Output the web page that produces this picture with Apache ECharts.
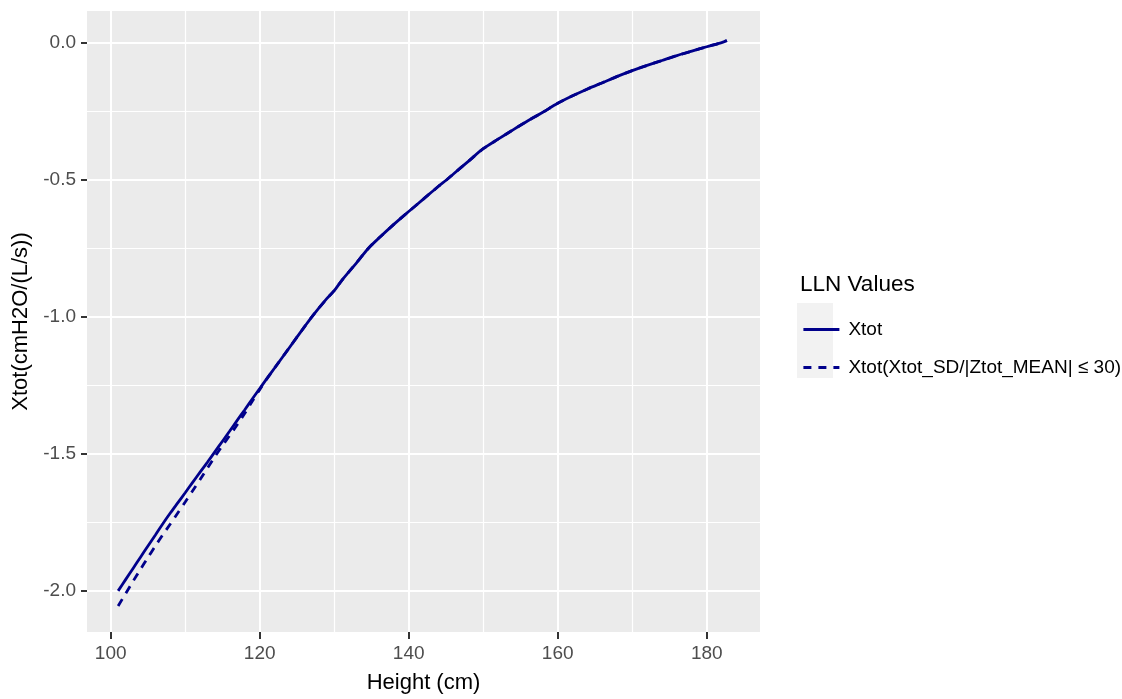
<!DOCTYPE html>
<html>
<head>
<meta charset="utf-8">
<script src="https://cdn.jsdelivr.net/npm/echarts@6/dist/echarts.min.js"></script>
<style>
  html, body { margin: 0; padding: 0; background: #ffffff; }
  #chart { width: 1122px; height: 699px; }
</style>
</head>
<body>
<div id="chart"></div>
<script>
// ---- Data ----
const heightSolid = [101, 102, 103, 104, 105, 106, 107, 108, 109, 110, 111, 112, 113, 114, 115, 116, 117, 118, 119, 120, 121, 122, 124, 126, 127, 129, 130, 131, 133, 134.6, 136, 138, 140, 142, 144, 145.1, 146, 148, 150, 152, 154, 156, 158, 160, 162, 164, 166, 168, 170, 172, 174, 176, 178, 180, 182, 182.7];
const xtotSolid = [-2.000, -1.959, -1.918, -1.877, -1.836, -1.796, -1.755, -1.716, -1.679, -1.642, -1.604, -1.567, -1.530, -1.492, -1.454, -1.416, -1.377, -1.339, -1.300, -1.262, -1.224, -1.187, -1.112, -1.037, -1.000, -0.934, -0.905, -0.868, -0.803, -0.750, -0.713, -0.663, -0.616, -0.570, -0.524, -0.500, -0.479, -0.433, -0.387, -0.352, -0.318, -0.285, -0.254, -0.221, -0.194, -0.169, -0.146, -0.123, -0.102, -0.083, -0.065, -0.047, -0.031, -0.015, 0.000, 0.008];
const heightDashed = [101, 102, 103, 104, 105, 106, 107, 108, 109, 110, 111, 112, 113, 114, 115, 116, 117, 118, 119, 120, 121, 122, 124, 126, 127, 129, 130, 131, 133, 134.6, 136, 138, 140, 142, 144, 145.1, 146, 148, 150, 152, 154, 156, 158, 160, 162, 164, 166, 168, 170, 172, 174, 176, 178, 180, 182, 182.7];
const xtotDashed = [-2.055, -2.010, -1.965, -1.921, -1.878, -1.836, -1.795, -1.756, -1.716, -1.676, -1.635, -1.594, -1.552, -1.510, -1.470, -1.432, -1.393, -1.352, -1.308, -1.266, -1.225, -1.187, -1.112, -1.037, -1.000, -0.934, -0.905, -0.868, -0.803, -0.750, -0.713, -0.663, -0.616, -0.570, -0.524, -0.500, -0.479, -0.433, -0.387, -0.352, -0.318, -0.285, -0.254, -0.221, -0.194, -0.169, -0.146, -0.123, -0.102, -0.083, -0.065, -0.047, -0.031, -0.015, 0.000, 0.008];

const xMajorTicks = [100, 120, 140, 160, 180];
const xMinorTicks = [110, 130, 150, 170];
const yMajorTicks = [-2.0, -1.5, -1.0, -0.5, 0.0];
const yMinorTicks = [-1.75, -1.25, -0.75, -0.25];

const seriesNames = ['Xtot', 'Xtot(Xtot_SD/|Ztot_MEAN| \u2264 30)'];
const legendTitle = 'LLN Values';
const xTitle = 'Height (cm)';
const yTitle = 'Xtot(cmH2O/(L/s))';

const xRange = [96.82, 187.15];
const yRange = [-2.150, 0.1155];

// ---- Chart ----
const chart = echarts.init(document.getElementById('chart'));
const lineColor = '#00008B';
const fontFam = '"Liberation Sans", Arial, sans-serif';

function pairs(xs, ys) { return xs.map((x, i) => [x, ys[i]]); }

const option = {
  animation: false,
  title: {
    text: legendTitle,
    left: 795,
    top: 268,
    textStyle: { fontFamily: fontFam, fontSize: 22.5, fontWeight: 'normal', color: '#000000' }
  },
  graphic: [{
    type: 'rect',
    shape: { x: 797, y: 303, width: 36, height: 75 },
    style: { fill: '#f2f2f2' },
    z: 0
  }],
  legend: {
    orient: 'vertical',
    left: 797,
    top: 315,
    itemWidth: 36,
    itemHeight: 19,
    itemGap: 19,
    data: [seriesNames[0], seriesNames[1]],
    itemStyle: { opacity: 0 },
    lineStyle: { width: 2.8 },
    textStyle: { fontFamily: fontFam, fontSize: 19, color: '#000000', padding: [0, 0, 0, 4] },
    z: 5
  },
  grid: {
    left: 87, right: 362, top: 11, bottom: 66,
    show: true, backgroundColor: '#ebebeb', borderWidth: 0
  },
  xAxis: [{
    type: 'value',
    min: xRange[0], max: xRange[1],
    name: xTitle,
    nameLocation: 'middle',
    nameGap: 40,
    nameTextStyle: { fontFamily: fontFam, fontSize: 22, color: '#000000' },
    axisLine: { show: false, onZero: false },
    axisTick: { show: true, length: 7, lineStyle: { color: '#333333', width: 2 }, customValues: xMajorTicks },
    axisLabel: { customValues: xMajorTicks, margin: 12, fontFamily: fontFam, fontSize: 19, color: '#4d4d4d',
                 formatter: v => String(Math.round(v)) },
    splitLine: { show: true, lineStyle: { color: '#ffffff', width: 2 } }
  }, {
    type: 'value',
    min: xRange[0], max: xRange[1],
    position: 'top',
    axisLine: { show: false, onZero: false },
    axisTick: { show: false, customValues: xMinorTicks },
    axisLabel: { show: false, customValues: xMinorTicks },
    splitLine: { show: true, lineStyle: { color: '#ffffff', width: 1.2 } }
  }],
  yAxis: [{
    type: 'value',
    min: yRange[0], max: yRange[1],
    name: yTitle,
    nameLocation: 'middle',
    nameGap: 50,
    nameRotate: 90,
    nameTextStyle: { fontFamily: fontFam, fontSize: 22, color: '#000000' },
    axisLine: { show: true, onZero: false, lineStyle: { color: '#ebebeb', width: 0.01 } },
    axisTick: { show: true, length: 6, lineStyle: { color: '#333333', width: 2 }, customValues: yMajorTicks },
    axisLabel: { customValues: yMajorTicks, margin: 11, fontFamily: fontFam, fontSize: 19, color: '#4d4d4d',
                 formatter: v => v.toFixed(1) },
    splitLine: { show: true, lineStyle: { color: '#ffffff', width: 2 } }
  }, {
    type: 'value',
    min: yRange[0], max: yRange[1],
    position: 'right',
    axisLine: { show: false, onZero: false },
    axisTick: { show: false, customValues: yMinorTicks },
    axisLabel: { show: false, customValues: yMinorTicks },
    splitLine: { show: true, lineStyle: { color: '#ffffff', width: 1.2 } }
  }],
  series: [{
    name: seriesNames[1],
    type: 'line',
    xAxisIndex: 0, yAxisIndex: 0,
    data: pairs(heightDashed, xtotDashed),
    showSymbol: false,
    symbol: 'none',
    smooth: 0.3,
    lineStyle: { color: lineColor, width: 2.8, type: [8, 7] },
    itemStyle: { color: lineColor },
    z: 3
  }, {
    name: seriesNames[0],
    type: 'line',
    xAxisIndex: 0, yAxisIndex: 0,
    data: pairs(heightSolid, xtotSolid),
    showSymbol: false,
    symbol: 'none',
    smooth: 0.3,
    lineStyle: { color: lineColor, width: 2.8, type: 'solid' },
    itemStyle: { color: lineColor },
    z: 4
  }]
};
chart.setOption(option);
</script>
</body>
</html>
